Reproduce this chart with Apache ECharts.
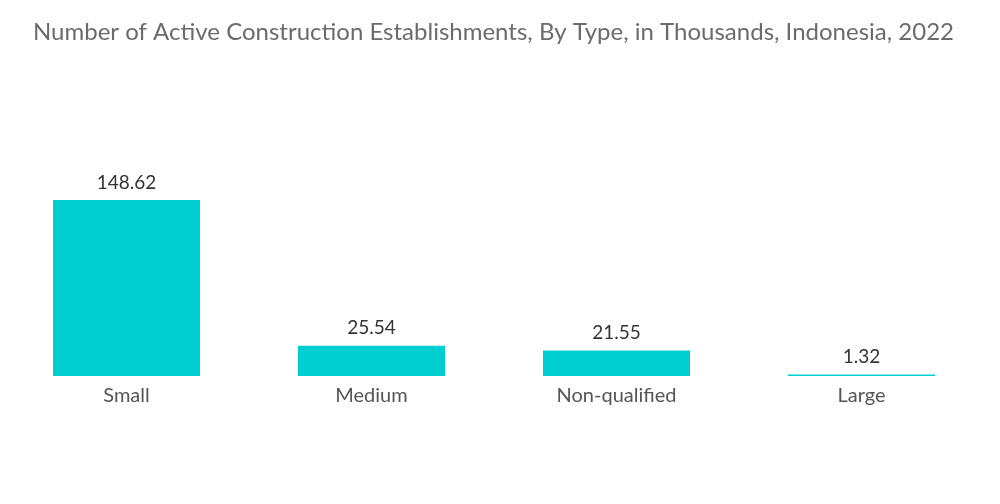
<!DOCTYPE html>
<html><head><meta charset="utf-8">
<script src="https://cdn.jsdelivr.net/npm/echarts@6/dist/echarts.min.js"></script>
<style>html,body{margin:0;padding:0;background:#fff}#c{width:1000px;height:504px}</style>
</head><body><div id="c"></div>
<script>
const categories = ['Small', 'Medium', 'Non-qualified', 'Large'];
const values = [148.62, 25.54, 21.55, 1.32];
const titleText = 'Number of Active Construction Establishments, By Type, in Thousands, Indonesia, 2022';

const chart = echarts.init(document.getElementById('c'));
chart.setOption({
  animation: false,
  title: {
    text: titleText, left: 28, top: 15,
    textStyle: { fontFamily: 'Lato', fontSize: 24, fontWeight: 'normal', color: '#6b6b6b' }
  },
  grid: { left: 4, right: 16, top: 200, bottom: 128, containLabel: false },
  xAxis: {
    type: 'category', data: categories,
    axisLine: { show: false }, axisTick: { show: false },
    axisLabel: { fontFamily: 'Lato', fontSize: 20, color: '#555', margin: 10 }
  },
  yAxis: { type: 'value', min: 0, max: 148.62, show: false, splitLine: { show: false } },
  series: [{
    type: 'bar', data: values, barWidth: '60%',
    itemStyle: { color: '#00CED1' },
    label: { show: true, position: 'top', distance: 8, fontFamily: 'Lato', fontSize: 19, color: '#333',
      formatter: p => p.value.toFixed(2) }
  }]
});
</script></body></html>
